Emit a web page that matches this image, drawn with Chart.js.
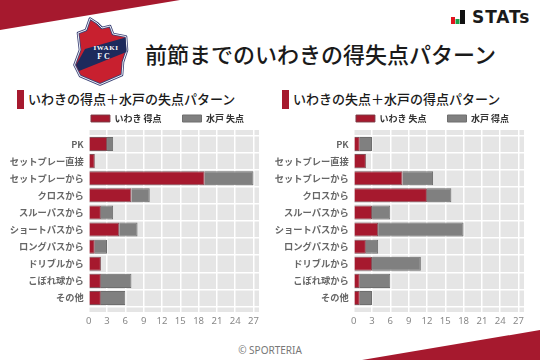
<!DOCTYPE html>
<html lang="ja"><head><meta charset="utf-8">
<script src="https://cdn.jsdelivr.net/npm/chart.js@4"></script>
<style>
html,body{margin:0;padding:0;background:#fff}
#stage{position:relative;width:540px;height:360px;overflow:hidden;font-family:"Noto Sans CJK JP","Noto Sans",sans-serif}
#stage svg.bg{position:absolute;left:0;top:0}
.t{position:absolute;white-space:nowrap;color:#1a1a1a}
canvas{position:absolute}
</style></head><body>
<div id="stage">
<svg class="bg" width="540" height="360" viewBox="0 0 540 360">
<polygon points="0,0 180,0 0,30" fill="#a6192e"/>
<polygon points="362,360 540,330 540,360" fill="#a6192e"/>
<rect x="17" y="90" width="7" height="19" fill="#a6192e"/>
<rect x="282" y="90" width="7" height="19" fill="#a6192e"/>
<path d="M90,18.500 L97,23 L102,28 L110,26 L113,34 L126,36.500 L127,50 L123,62 L122,75 L100,84.500 L80,76 L74.500,65 L80,50 L78,33 L86,30 Z" fill="#c8202f" stroke="#3d4478" stroke-width="2.600" stroke-linejoin="round"/>
<path d="M90,18.500 L97,23 L102,28 L110,26 L113,34 L126,36.500 L127,50 L123,62 L122,75 L100,84.500 L80,76 L74.500,65 L80,50 L78,33 L86,30 Z" fill="none" stroke="#eceef4" stroke-width="1" stroke-linejoin="round"/>
<path d="M76,65 L85,49 L125.500,37.500 L126.500,52 L79,71 Z" fill="#1d2a5c"/>
<text x="106" y="50" text-anchor="middle" font-family="Liberation Serif" font-weight="700" font-size="7" letter-spacing=".6" fill="#fff">IWAKI</text>
<text x="103.500" y="59" text-anchor="middle" font-family="Liberation Serif" font-weight="700" font-size="8" fill="#fff">F C</text>
<rect x="451" y="17" width="4" height="7" fill="#e0141e"/>
<rect x="455.500" y="19" width="4" height="5" fill="#19a24a"/>
<rect x="460" y="10" width="5" height="14" fill="#111"/>
</svg>
<div class="t" style="left:472px;top:6px;font:700 17px/22px 'DejaVu Sans';letter-spacing:.9px">STATs</div>
<div class="t" style="left:145px;top:37px;font-size:22px;line-height:32px;font-weight:500">前節までのいわきの得失点パターン</div>
<div class="t" style="left:28px;top:89px;font-size:13px;line-height:19px;font-weight:500">いわきの得点＋水戸の失点パターン</div>
<div class="t" style="left:293px;top:89px;font-size:13px;line-height:19px;font-weight:500">いわきの失点＋水戸の得点パターン</div>
<div class="t" style="left:0;width:540px;text-align:center;top:343px;font:400 10px/14px 'Noto Sans';color:#777">© SPORTERIA</div>
<canvas id="c1" width="270" height="246" style="left:0;top:90px;width:270px;height:246px"></canvas>
<canvas id="c2" width="270" height="246" style="left:265px;top:90px;width:270px;height:246px"></canvas>
</div>
<script>
const categories=["PK","セットプレー直接","セットプレーから","クロスから","スルーパスから","ショートパスから","ロングパスから","ドリブルから","こぼれ球から","その他"];
const iwakiScored=[3,1,19,7,2,5,1,2,2,2];
const mitoConceded=[1,0,8,3,2,3,2,0,5,4];
const iwakiConceded=[1,2,8,12,3,4,2,3,1,1];
const mitoScored=[2,0,5,4,3,14,2,8,5,2];
const labelsLeft=["いわき 得点","水戸 失点"];
const labelsRight=["いわき 失点","水戸 得点"];
const tickStep=3, axisMax=27.9;
const JP='"Noto Sans CJK JP","Noto Sans",sans-serif';
function draw(id,a,b,names){
 new Chart(document.getElementById(id),{
  type:'bar',
  data:{labels:categories,datasets:[
   {label:names[0],data:a,backgroundColor:'#a6192e',borderColor:'rgba(120,60,70,.9)',borderWidth:1},
   {label:names[1],data:b,backgroundColor:'#808080',borderColor:'#6e6e6e',borderWidth:1}]},
  options:{indexAxis:'y',responsive:false,animation:false,devicePixelRatio:1,
   layout:{padding:{left:0,right:11,top:0,bottom:0}},
   plugins:{
    legend:{position:'top',align:'center',labels:{boxWidth:19,boxHeight:7,padding:21,color:'#333',font:{family:JP,size:9,weight:'700'}}},
    tooltip:{enabled:false}
   },
   datasets:{bar:{categoryPercentage:.82,barPercentage:1}},
   scales:{
    x:{stacked:true,min:0,max:axisMax,afterBuildTicks(s){s.ticks=[];for(let v=0;v<=27;v+=tickStep)s.ticks.push({value:v});},
       grid:{color:'#fff',lineWidth:1.5,drawTicks:false},border:{display:false},
       afterFit(s){s.height=24},
       ticks:{color:'#888',padding:4,maxRotation:0,font:{family:'"Noto Sans"',size:9.5}}},
    y:{stacked:true,grid:{color:'#fff',lineWidth:1.5,drawTicks:false},border:{display:false},
       afterFit(s){s.width=88.7;s._startValue=-0.82;s._valueRange=10.64},
       ticks:{color:'#666',padding:5,autoSkip:false,font:{family:JP,size:9.25,weight:'700'}}}
   }},
  plugins:[{id:'bgplot',
   afterLayout(c){c.legend.top+=3;c.legend.left+=38;c.legend.right+=38;c.legend.adjustHitBoxes();},
   beforeDraw(c){const p=c.chartArea,x=c.ctx;x.save();x.fillStyle='#e5e5e5';x.fillRect(p.left,p.top,p.right-p.left,p.bottom-p.top);x.restore();}}]
 });
}
draw('c1',iwakiScored,mitoConceded,labelsLeft);
draw('c2',iwakiConceded,mitoScored,labelsRight);
</script>
</body></html>
